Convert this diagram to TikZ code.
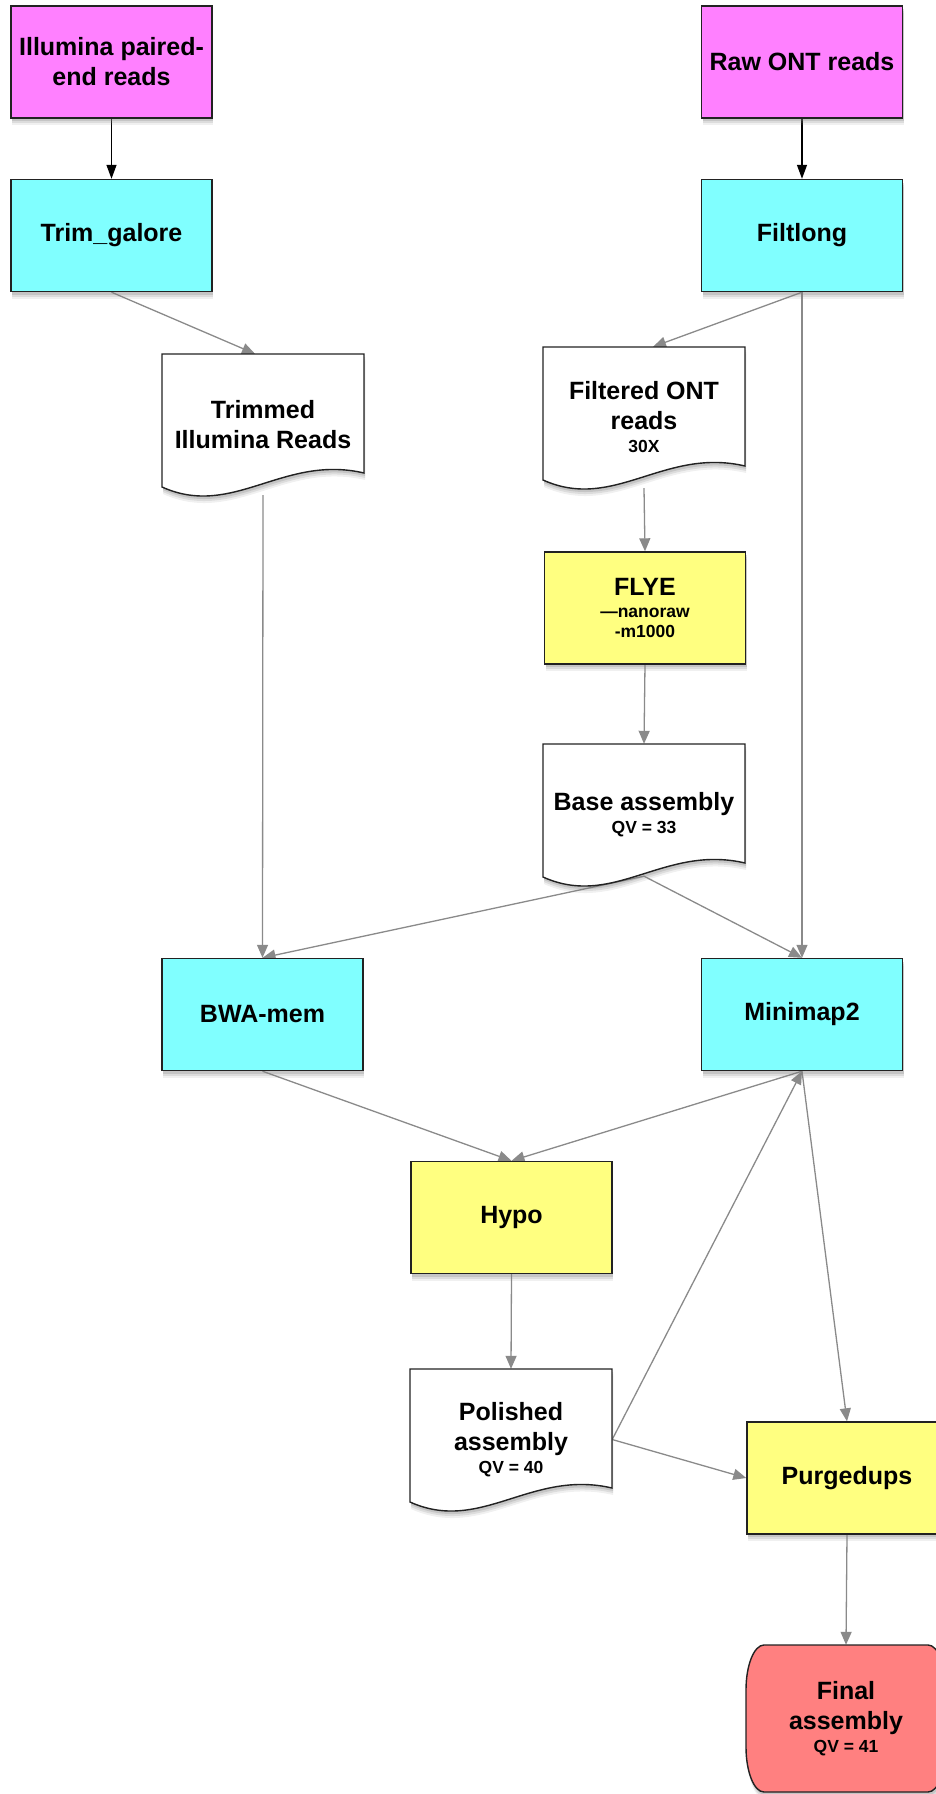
\documentclass[tikz,border=0pt]{standalone}
\usepackage{fontspec}
\setmainfont{Liberation Sans}
\usetikzlibrary{arrows.meta,shadows,calc}
\definecolor{magbox}{HTML}{FF80FF}
\definecolor{cyanbox}{HTML}{80FFFF}
\definecolor{yelbox}{HTML}{FFFF80}
\definecolor{redbox}{HTML}{FF8080}
\definecolor{edgegray}{HTML}{8A8A8A}
\definecolor{bordercol}{HTML}{222222}
\pgfdeclarelayer{bg}
\pgfsetlayers{bg,main}
\newcommand{\bigfont}{\bfseries\fontsize{25}{30}\selectfont}
\newcommand{\smallfont}{\bfseries\fontsize{17.5}{21}\selectfont}
\tikzset{
  shad/.style={drop shadow={shadow xshift=1pt, shadow yshift=-7pt, opacity=0.12},
               drop shadow={shadow xshift=1pt, shadow yshift=-5pt, opacity=0.18},
               drop shadow={shadow xshift=1pt, shadow yshift=-3pt, opacity=0.25}},
  box/.style={draw=bordercol, line width=1.4pt, minimum width=201pt, minimum height=112pt,
    inner sep=0pt, align=center, font=\bigfont, shad},
  inbox/.style={box, fill=magbox},
  toolbox/.style={box, fill=cyanbox},
  stepbox/.style={box, fill=yelbox},
  docshape/.style={draw=bordercol, line width=1.4pt, fill=white, shad},
  docnode/.style={draw=none, minimum width=202pt, minimum height=141pt, inner sep=0pt,
    align=center, font=\bigfont},
  finalshape/.style={draw=bordercol, line width=1.4pt, fill=redbox, shad},
  flow/.style={draw=edgegray, line width=1.3pt, -{Triangle[length=13pt,width=11pt]}},
  blackflow/.style={draw=black, line width=1.3pt, -{Triangle[length=14pt,width=10pt]}},
}
% document shape: #1 left x, #2 top y (negative)
\newcommand{\docpath}[2]{%
  \path[docshape] (#1,#2) -- ++(202,0) -- ++(0,-119)
    .. controls +(-81,19) and +(71,-32) .. ++(-202,-14) -- cycle;}
\begin{document}
\begin{tikzpicture}[x=1pt,y=1pt]
\useasboundingbox (0,0) rectangle (936,-1794);
\clip (0,0) rectangle (936,-1794);

% input boxes
\node[inbox] (illum) at (111.5,-62) {Illumina paired-\\end reads};
\node[inbox] (raw) at (802,-62) {Raw ONT reads};
% tools
\node[toolbox] (trim) at (111.5,-235.5) {Trim\_galore};
\node[toolbox] (filt) at (802,-235.5) {Filtlong};
\node[toolbox] (bwa) at (262.5,-1014.5) {BWA-mem};
\node[toolbox] (mini) at (802,-1014.5) {Minimap2};
% steps
\node[stepbox] (flye) at (645,-608) {FLYE\\[-8pt]{\smallfont —nanoraw}\\[-10pt]{\smallfont -m1000}};
\node[stepbox] (hypo) at (511.5,-1217.5) {Hypo};
\node[stepbox, minimum width=200pt] (purg) at (847,-1478) {Purgedups};

% documents
\docpath{162}{-354}
\node[docnode] (trimmed) at (263,-424.5) {Trimmed\\Illumina Reads};
\docpath{543}{-347}
\node[docnode] (filtered) at (644,-417.5) {Filtered ONT\\reads\\[-7pt]{\smallfont 30X}};
\docpath{543}{-744}
\node[docnode] (base) at (644,-814.5) {Base assembly\\[-7pt]{\smallfont QV = 33}};
\docpath{410}{-1369}
\node[docnode] (polished) at (511,-1439.5) {Polished\\assembly\\[-7pt]{\smallfont QV = 40}};

% final
\path[finalshape] (764,-1645) -- (928,-1645)
  arc[start angle=90, end angle=0, x radius=18, y radius=45] -- (946,-1747)
  arc[start angle=0, end angle=-90, x radius=18, y radius=45] -- (764,-1792)
  arc[start angle=270, end angle=180, x radius=18, y radius=45] -- (746,-1690)
  arc[start angle=180, end angle=90, x radius=18, y radius=45] -- cycle;
\node[docnode, minimum width=200pt, minimum height=147pt] (final) at (846,-1718.5)
  {Final\\assembly\\[-7pt]{\smallfont QV = 41}};

\begin{pgfonlayer}{bg}
\draw[blackflow] (illum) -- (trim);
\draw[blackflow] (raw) -- (filt);
\draw[flow] (trim.south) -- ($(trimmed.north)+(-8,0)$);
\draw[flow] (filt.south) -- ($(filtered.north)+(9,0)$);
\draw[flow] (filt.south) -- (mini.north);
\draw[flow] (trimmed.south) -- (bwa.north);
\draw[flow] (filtered.south) -- (flye.north);
\draw[flow] (flye.south) -- (base.north);
\draw[flow] ($(base.south)+(0,9)$) -- (bwa.north);
\draw[flow] ($(base.south)+(0,9)$) -- (mini.north);
\draw[flow] (bwa.south) -- (hypo.north);
\draw[flow] (mini.south) -- (hypo.north);
\draw[flow] (polished.east) -- (mini.south);
\draw[flow] (mini.south) -- (purg.north);
\draw[flow] (polished.east) -- (purg.west);
\draw[flow] (hypo.south) -- (polished.north);
\draw[flow] (purg.south) -- (final.north);
\end{pgfonlayer}
\end{tikzpicture}
\end{document}
